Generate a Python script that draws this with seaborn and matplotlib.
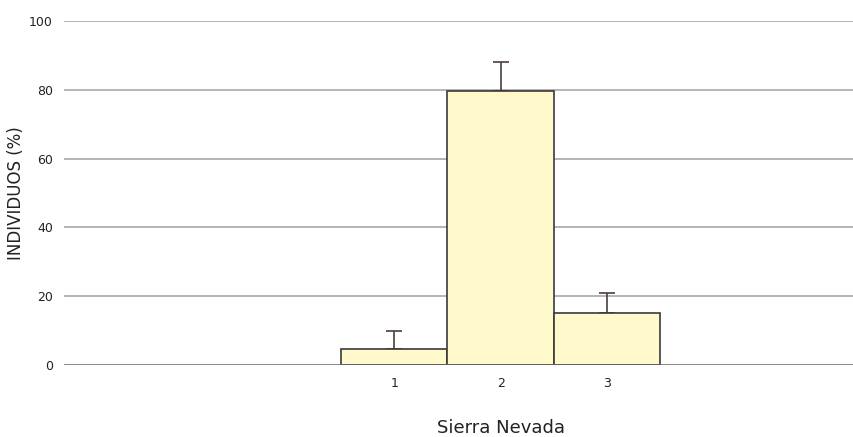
import matplotlib
matplotlib.use("Agg")
import matplotlib.pyplot as plt
import pandas as pd
import seaborn as sns

# values
categories = ["1", "2", "3"]
percent = [4.5, 79.6, 15.2]
error_up = [5.5, 8.5, 5.7]

sns.set_theme(style="white")
plt.rcParams["font.family"] = ["DejaVu Sans"]

df = pd.DataFrame({"cat": categories, "pct": percent})

fig = plt.figure(figsize=(8.54, 4.37), dpi=100)
ax = fig.add_axes([0.075, 0.165, 0.924, 0.787])

# grid lines behind the bars
for y in [20, 40, 60, 80, 100]:
    ax.axhline(y, color="#a8a8a8", linewidth=1.2, zorder=0)

sns.barplot(data=df, x="cat", y="pct", color="#fff9cc", width=1.0,
            edgecolor="#3a3a3a", linewidth=1.2, saturation=1,
            errorbar=None, ax=ax, zorder=2)

ax.errorbar(x=range(len(categories)), y=percent,
            yerr=[[0] * len(categories), error_up],
            fmt="none", ecolor="#4a403a", elinewidth=1.2,
            capsize=5.8, capthick=1.2, zorder=1)

ax.axhline(0, color="#666666", linewidth=1.8, zorder=3)

ax.set_xlim(-3.1, 4.31)
ax.set_ylim(0, 100)
ax.set_yticks([0, 20, 40, 60, 80, 100])

for s in ax.spines.values():
    s.set_visible(False)

ax.tick_params(axis="both", length=0, labelsize=9, colors="#222222")
ax.tick_params(axis="y", pad=8)
ax.tick_params(axis="x", pad=9)

ax.set_xlabel("")
ax.set_ylabel("INDIVIDUOS (%)", fontsize=12, color="#222222")
ax.yaxis.set_label_coords(-0.05, 0.5)

ax.text(1, -0.183, "Sierra Nevada", transform=ax.get_xaxis_transform(),
        ha="center", va="center", fontsize=13, color="#222222")

fig.savefig("out.png", dpi=100)
